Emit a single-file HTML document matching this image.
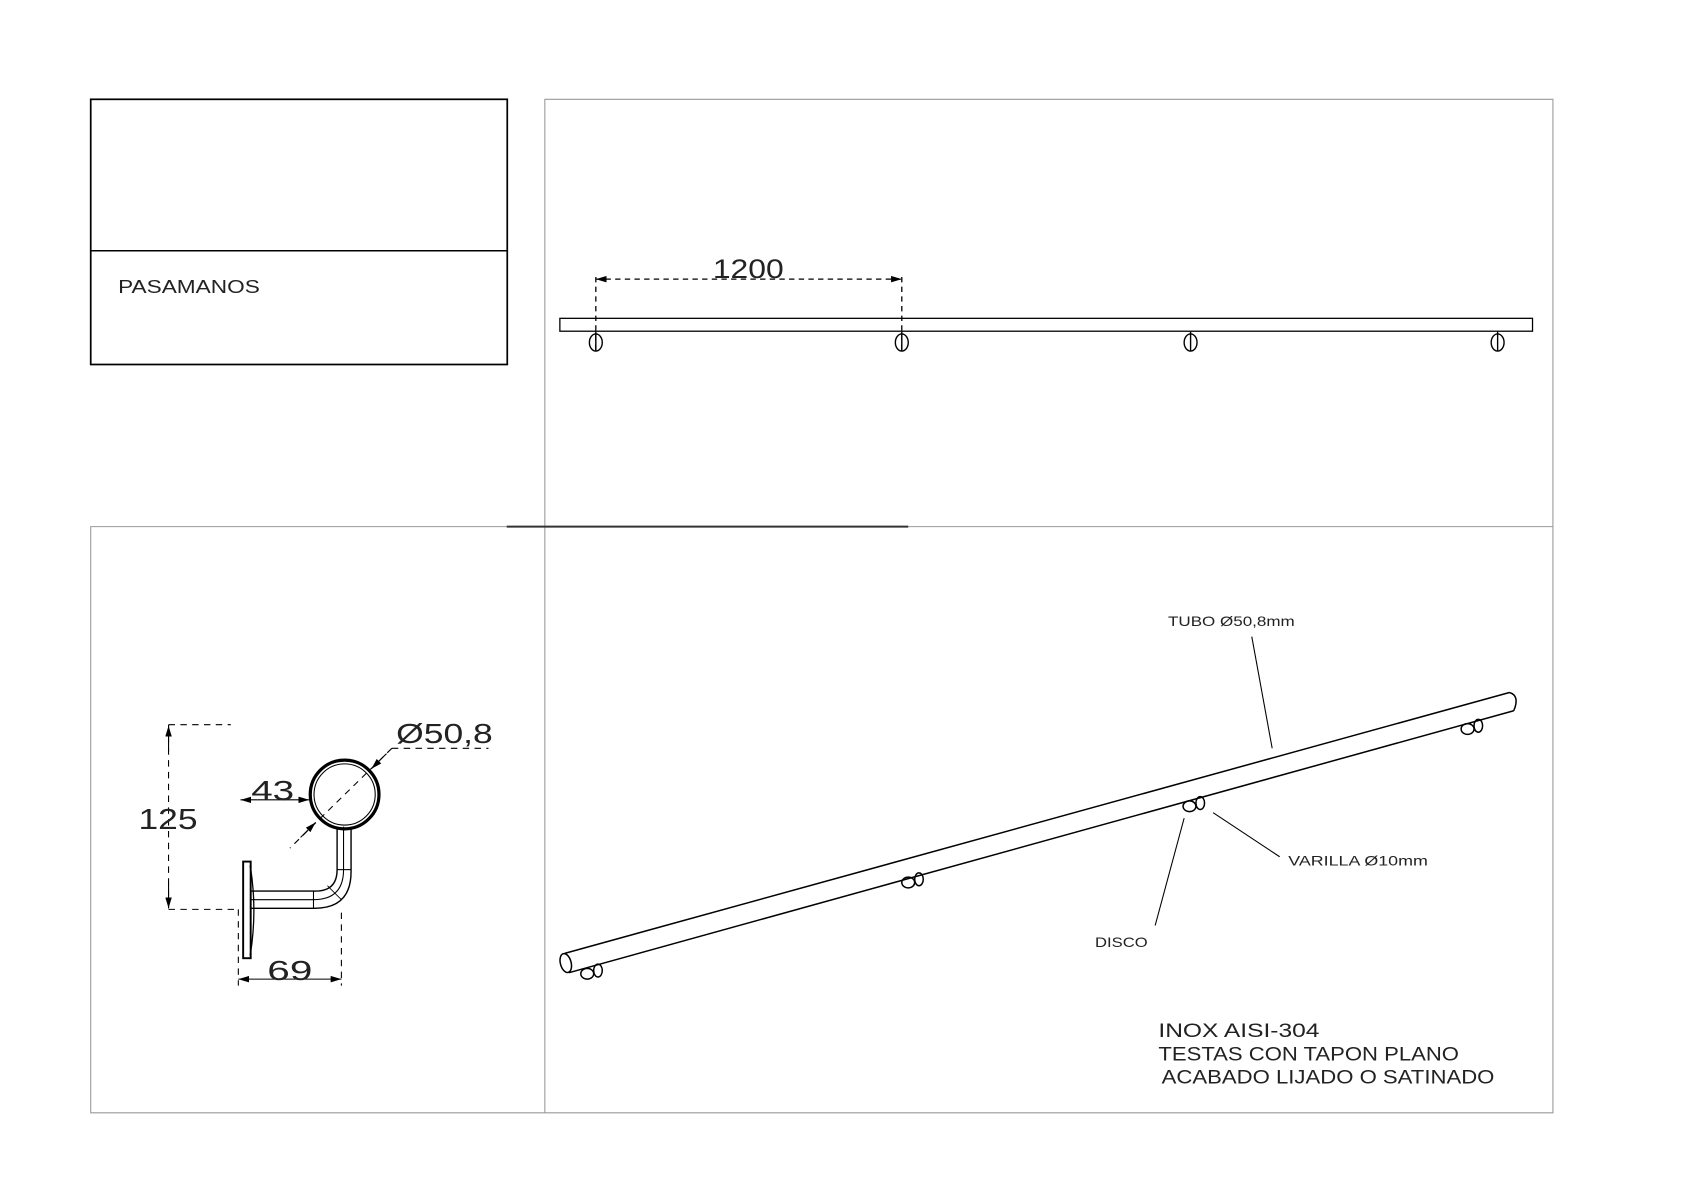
<!DOCTYPE html>
<html><head><meta charset="utf-8"><style>
html,body{margin:0;padding:0;background:#fff;}
svg{display:block;}
text{font-family:"Liberation Sans",sans-serif;fill:#222;}
</style></head><body>
<svg width="1684" height="1190" viewBox="0 0 1568.6 1108.4" preserveAspectRatio="none" xmlns="http://www.w3.org/2000/svg">
<defs>
<marker id="ar" viewBox="0 0 10 6" refX="10" refY="3" markerWidth="10" markerHeight="6" orient="auto-start-reverse" markerUnits="userSpaceOnUse"><path d="M0,0 L10,3 L0,6 z" fill="#000"/></marker>
</defs>
<g fill="none" stroke="#000">
<rect x="84.5" y="92.5" width="388" height="247" stroke-width="1.6"/>
<line x1="84" y1="233.5" x2="472" y2="233.5" stroke-width="1.4"/>
<g stroke="#999" stroke-width="1">
<polyline points="507.5,1036.5 507.5,92.5 1446.5,92.5 1446.5,1036.5 84.5,1036.5 84.5,490.5 1446.5,490.5"/>
</g>
<line x1="472" y1="490.5" x2="846" y2="490.5" stroke="#333" stroke-width="1.8"/>
<rect x="521.5" y="296.5" width="906" height="12" stroke-width="1.2"/>
<g stroke-width="1.3">
<ellipse cx="555" cy="319" rx="6" ry="8"/><line x1="555" y1="309" x2="555" y2="327"/>
<ellipse cx="840" cy="319" rx="6" ry="8"/><line x1="840" y1="309" x2="840" y2="327"/>
<ellipse cx="1109" cy="319" rx="6" ry="8"/><line x1="1109" y1="309" x2="1109" y2="327"/>
<ellipse cx="1395" cy="319" rx="6" ry="8"/><line x1="1395" y1="309" x2="1395" y2="327"/>
</g>
<g stroke-dasharray="5,4" stroke-width="1.2">
<line x1="555" y1="258" x2="555" y2="328"/>
<line x1="840" y1="258" x2="840" y2="328"/>
<line x1="555" y1="260" x2="840" y2="260" marker-start="url(#ar)" marker-end="url(#ar)"/>
</g>
<circle cx="321" cy="740" r="32" stroke-width="3"/>
<circle cx="321" cy="740" r="28.5" stroke-width="1"/>
<path d="M314,770 L314,810 Q314,830 294,830 L233,830" stroke-width="1.3"/>
<path d="M327,770 L327,812 Q327,846 293,846 L233,846" stroke-width="1.3"/>
<line x1="320" y1="770" x2="320" y2="810" stroke-width="1"/>
<path d="M320,810 Q320,838 292,838 L233,838" stroke-width="1"/>
<line x1="314" y1="810" x2="327" y2="810"/>
<line x1="292" y1="830" x2="292" y2="846"/>
<line x1="305" y1="825" x2="318" y2="838" stroke-width="0.8"/>
<rect x="226.5" y="802.5" width="7" height="90" stroke-width="1.8"/>
<path d="M233,806 Q240,848 233,890" stroke-width="1.2"/>
<g stroke-width="1" stroke-dasharray="6,5">
<line x1="157" y1="675" x2="215" y2="675"/>
<line x1="157" y1="847" x2="222" y2="847"/>
<line x1="157" y1="675" x2="157" y2="847"/>
<line x1="222" y1="847" x2="222" y2="918"/>
<line x1="318" y1="850" x2="318" y2="918"/>
<line x1="365" y1="697" x2="455" y2="697"/>
<line x1="365" y1="697" x2="270" y2="790"/>
</g>
<line x1="157" y1="676" x2="157" y2="700" marker-start="url(#ar)" stroke-width="1"/>
<line x1="157" y1="846" x2="157" y2="822" marker-start="url(#ar)" stroke-width="1"/>
<line x1="222" y1="912" x2="318" y2="912" marker-start="url(#ar)" marker-end="url(#ar)" stroke-width="1"/>
<line x1="240" y1="745" x2="288" y2="745" marker-end="url(#ar)" stroke-width="1"/>
<line x1="224" y1="745" x2="240" y2="745" marker-start="url(#ar)" stroke-width="1"/>
<line x1="360" y1="702" x2="346" y2="716" marker-end="url(#ar)" stroke-width="1"/>
<line x1="280" y1="780" x2="294" y2="766" marker-end="url(#ar)" stroke-width="1"/>
<line x1="526" y1="888" x2="1406" y2="645" stroke-width="1.4"/>
<line x1="530" y1="906" x2="1410" y2="662" stroke-width="1.4"/>
<ellipse cx="527" cy="897" rx="5" ry="9" transform="rotate(-15 527 897)" stroke-width="1.4"/>
<path d="M1406,645 Q1416,648 1410,662" stroke-width="1.4"/>
<g stroke-width="1.4">
<ellipse cx="547" cy="907" rx="6" ry="5"/><ellipse cx="557" cy="904" rx="4" ry="6"/>
<ellipse cx="846" cy="822" rx="6" ry="5"/><ellipse cx="856" cy="819" rx="4" ry="6"/>
<ellipse cx="1108" cy="751" rx="6" ry="5"/><ellipse cx="1118" cy="748" rx="4" ry="6"/>
<ellipse cx="1367" cy="679" rx="6" ry="5"/><ellipse cx="1377" cy="676" rx="4" ry="6"/>
</g>
<g stroke-width="1">
<line x1="1166" y1="593" x2="1185" y2="697"/>
<line x1="1130" y1="757" x2="1192" y2="798"/>
<line x1="1103" y1="762" x2="1076" y2="862"/>
</g>
</g>
<text x="110" y="273" font-size="17" textLength="132" lengthAdjust="spacingAndGlyphs">PASAMANOS</text>
<text x="664" y="259" font-size="25" font-weight="300" fill="#444" textLength="66" lengthAdjust="spacingAndGlyphs">1200</text>
<text x="129" y="772" font-size="27" fill="#444" textLength="55" lengthAdjust="spacingAndGlyphs">125</text>
<text x="234" y="745" font-size="26" fill="#444" textLength="40" lengthAdjust="spacingAndGlyphs">43</text>
<text x="249" y="913" font-size="26" fill="#444" textLength="42" lengthAdjust="spacingAndGlyphs">69</text>
<text x="369" y="692" font-size="26" fill="#444" textLength="90" lengthAdjust="spacingAndGlyphs">Ø50,8</text>
<text x="1088" y="583" font-size="13" textLength="118" lengthAdjust="spacingAndGlyphs">TUBO Ø50,8mm</text>
<text x="1200" y="806" font-size="13" textLength="130" lengthAdjust="spacingAndGlyphs">VARILLA Ø10mm</text>
<text x="1020" y="882" font-size="13" textLength="49" lengthAdjust="spacingAndGlyphs">DISCO</text>
<text x="1079" y="966" font-size="18" textLength="150" lengthAdjust="spacingAndGlyphs">INOX AISI-304</text>
<text x="1079" y="988" font-size="18" textLength="280" lengthAdjust="spacingAndGlyphs">TESTAS CON TAPON PLANO</text>
<text x="1082" y="1009" font-size="18" textLength="310" lengthAdjust="spacingAndGlyphs">ACABADO LIJADO O SATINADO</text>
</svg>
</body></html>
